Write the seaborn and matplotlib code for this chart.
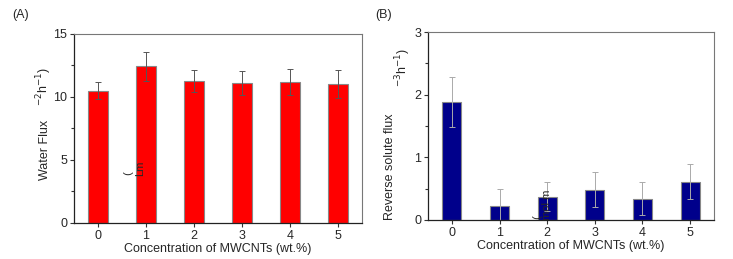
import numpy as np
import pandas as pd
import seaborn as sns
import matplotlib.pyplot as plt
from matplotlib.ticker import MultipleLocator

# data
conc = ['0', '1', '2', '3', '4', '5']
water_flux = [10.5, 12.45, 11.25, 11.1, 11.2, 11.0]
water_err = [0.65, 1.15, 0.88, 0.95, 1.03, 1.1]
solute_flux = [1.89, 0.22, 0.37, 0.48, 0.34, 0.61]
solute_err = [0.4, 0.27, 0.23, 0.28, 0.26, 0.28]

sns.set_style('ticks')
plt.rcParams['font.family'] = ['Liberation Sans', 'DejaVu Sans']
plt.rcParams['font.size'] = 9

df = pd.DataFrame({'conc': conc, 'water': water_flux, 'solute': solute_flux})

fig = plt.figure(figsize=(7.33, 2.59), dpi=100)
axA = fig.add_axes([0.101, 0.139, 0.393, 0.730])
axB = fig.add_axes([0.584, 0.151, 0.390, 0.725])


def style_axis(ax, ymax, major, minor):
    ax.set_xlim(-0.5, 5.5)
    ax.set_ylim(0, ymax)
    ax.yaxis.set_major_locator(MultipleLocator(major))
    ax.yaxis.set_minor_locator(MultipleLocator(minor))
    ax.tick_params(axis='both', which='major', direction='out', length=3,
                   width=0.8, color='#333333', labelsize=9, pad=2)
    ax.tick_params(axis='y', which='minor', direction='out', length=2,
                   width=0.8, color='#333333')
    for s in ['left', 'bottom']:
        ax.spines[s].set_color('#222222')
        ax.spines[s].set_linewidth(0.9)
    for s in ['top', 'right']:
        ax.spines[s].set_visible(True)
        ax.spines[s].set_color('#777777')
        ax.spines[s].set_linewidth(0.8)
    ax.set_xlabel('Concentration of MWCNTs (wt.%)', fontsize=9, labelpad=1)
    ax.set_ylabel('')


# (A) water flux
sns.barplot(data=df, x='conc', y='water', color='#ff0000', saturation=1,
            width=0.4, edgecolor='#888888', linewidth=0.8, errorbar=None, ax=axA)
axA.errorbar(np.arange(len(conc)), water_flux, yerr=water_err, fmt='none',
             ecolor='#555555', elinewidth=0.7, capsize=2.5, capthick=0.7)
style_axis(axA, 15, 5, 2.5)

# (B) reverse solute flux
sns.barplot(data=df, x='conc', y='solute', color='#00008b', saturation=1,
            width=0.4, edgecolor='#888888', linewidth=0.8, errorbar=None, ax=axB)
axB.errorbar(np.arange(len(conc)), solute_flux, yerr=solute_err, fmt='none',
             ecolor='#aaaaaa', elinewidth=0.7, capsize=2.5, capthick=0.7)
style_axis(axB, 3, 1, 0.5)

# broken y labels as in the original figure
fig.text(12 / 733, 1 - 15 / 259, '(A)', fontsize=9, ha='left', va='center')
fig.text(375 / 733, 1 - 15 / 259, '(B)', fontsize=9, ha='left', va='center')

fig.text(45 / 733, 1 - 150 / 259, 'Water Flux', rotation=90, fontsize=9,
         ha='center', va='center')
fig.text(44 / 733, 1 - 86 / 259, r'$^{-2}$h$^{-1}$)', rotation=90, fontsize=9,
         ha='center', va='center')
fig.text(140 / 733, 1 - 168 / 259, 'Lm', rotation=90, fontsize=8,
         ha='center', va='center')
fig.text(128 / 733, 1 - 173 / 259, '(', rotation=90, fontsize=8,
         ha='center', va='center')

fig.text(390 / 733, 1 - 167 / 259, 'Reverse solute flux', rotation=90,
         fontsize=9, ha='center', va='center')
fig.text(403 / 733, 1 - 67 / 259, r'$^{-3}$h$^{-1}$)', rotation=90, fontsize=9,
         ha='center', va='center')
fig.text(547 / 733, 1 - 205 / 259, 'mol m', rotation=90, fontsize=8,
         ha='center', va='center')
fig.text(537 / 733, 1 - 217 / 259, '(', rotation=90, fontsize=8,
         ha='center', va='center')

fig.savefig('out.png', dpi=100)
